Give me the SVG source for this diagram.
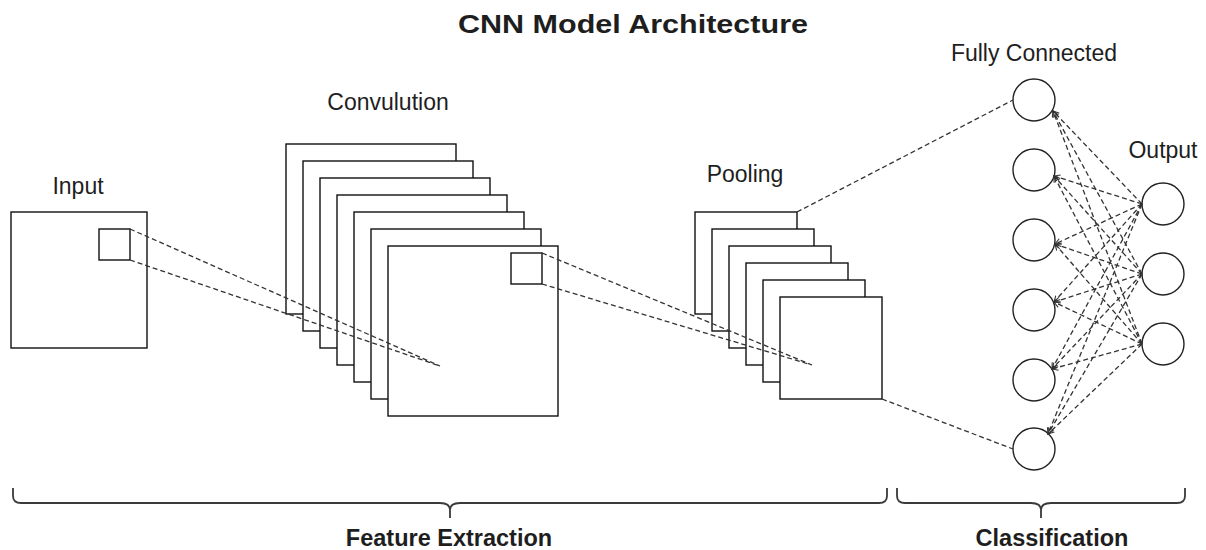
<svg xmlns="http://www.w3.org/2000/svg" width="1206" height="550" viewBox="0 0 1206 550">
  <style>
    .lbl { font-family: "Liberation Sans", Arial, sans-serif; font-size: 23px; fill: #1e1e1e; text-anchor: middle; }
    .bold { font-weight: bold; font-size: 23.5px; }
    .title { font-size: 26px; }
    .box { fill: #ffffff; stroke: #111111; stroke-width: 1.4; }
    .unit { fill: #ffffff; stroke: #222222; stroke-width: 1.4; }
    .dash { fill: none; stroke: #333333; stroke-width: 1.3; stroke-dasharray: 5 3; }
    .brace { fill: none; stroke: #3a3a3a; stroke-width: 1.8; }
  </style>
  <defs>
    <marker id="open-arrow" markerWidth="8" markerHeight="8" refX="6.5" refY="3.5" orient="auto" markerUnits="userSpaceOnUse">
      <path d="M0.5,0.5 L6.5,3.5 L0.5,6.5" fill="none" stroke="#333333" stroke-width="1.1"/>
    </marker>
  </defs>

  <rect width="1206" height="550" fill="#ffffff"/>

  <!-- title -->
  <text class="lbl bold title" x="633" y="33" textLength="350" lengthAdjust="spacingAndGlyphs">CNN Model Architecture</text>

  <!-- input image with receptive field -->
  <g id="input">
    <text class="lbl" x="78" y="194">Input</text>
    <rect class="box" x="11" y="212" width="136" height="136"/>
    <rect class="box" x="99" y="229" width="31" height="31"/>
  </g>

  <!-- convolution feature maps, back to front -->
  <g id="convolution">
    <text class="lbl" x="388" y="110">Convulution</text>
    <rect class="box" x="286" y="144" width="170" height="170"/>
    <rect class="box" x="303" y="161" width="170" height="170"/>
    <rect class="box" x="320" y="178" width="170" height="170"/>
    <rect class="box" x="337" y="195" width="170" height="170"/>
    <rect class="box" x="354" y="212" width="170" height="170"/>
    <rect class="box" x="371" y="229" width="170" height="170"/>
    <rect class="box" x="388" y="246" width="170" height="170"/>
    <rect class="box" x="511" y="253" width="31" height="31"/>
  </g>

  <!-- pooled maps, back to front -->
  <g id="pooling">
    <text class="lbl" x="745" y="182">Pooling</text>
    <rect class="box" x="695" y="212" width="102" height="102"/>
    <rect class="box" x="712" y="229" width="102" height="102"/>
    <rect class="box" x="729" y="246" width="102" height="102"/>
    <rect class="box" x="746" y="263" width="102" height="102"/>
    <rect class="box" x="763" y="280" width="102" height="102"/>
    <rect class="box" x="780" y="297" width="102" height="102"/>
  </g>

  <!-- fully connected layer -->
  <g id="fully-connected">
    <text class="lbl" x="1034" y="61">Fully Connected</text>
    <circle class="unit" cx="1034" cy="100" r="21"/>
    <circle class="unit" cx="1034" cy="170" r="21"/>
    <circle class="unit" cx="1034" cy="240" r="21"/>
    <circle class="unit" cx="1034" cy="310" r="21"/>
    <circle class="unit" cx="1034" cy="380" r="21"/>
    <circle class="unit" cx="1034" cy="449" r="21"/>
  </g>

  <!-- output layer -->
  <g id="output">
    <text class="lbl" x="1163" y="158">Output</text>
    <circle class="unit" cx="1163" cy="204" r="21"/>
    <circle class="unit" cx="1163" cy="274" r="21"/>
    <circle class="unit" cx="1163" cy="344" r="21"/>
  </g>

  <!-- connectors -->
  <g id="connectors">
    <path class="dash" d="M130,229 L440,366 M130,260 L440,366"/>
    <path class="dash" d="M542,253 L812,365 M542,284 L812,365"/>
    <path class="dash" d="M797,212 L1013,100 M882,399 L1013,449"/>
    <g marker-end="url(#open-arrow)">
      <path class="dash" d="M1142,204 L1053,111"/>
      <path class="dash" d="M1142,204 L1054,176"/>
      <path class="dash" d="M1142,204 L1055,244"/>
      <path class="dash" d="M1142,204 L1054,302"/>
      <path class="dash" d="M1142,204 L1052,369"/>
      <path class="dash" d="M1142,204 L1048,434"/>
      <path class="dash" d="M1142,274 L1053,111"/>
      <path class="dash" d="M1142,274 L1054,176"/>
      <path class="dash" d="M1142,274 L1055,244"/>
      <path class="dash" d="M1142,274 L1054,302"/>
      <path class="dash" d="M1142,274 L1052,369"/>
      <path class="dash" d="M1142,274 L1048,434"/>
      <path class="dash" d="M1142,344 L1053,111"/>
      <path class="dash" d="M1142,344 L1054,176"/>
      <path class="dash" d="M1142,344 L1055,244"/>
      <path class="dash" d="M1142,344 L1054,302"/>
      <path class="dash" d="M1142,344 L1052,369"/>
      <path class="dash" d="M1142,344 L1048,434"/>
    </g>
  </g>

  <!-- stage braces -->
  <g id="feature-extraction">
    <path class="brace" d="M13,488 V496 Q13,503 21,503 H440 Q450,503 450,510 Q450,503 460,503 H879 Q887,503 887,496 V488 M450,510 V518"/>
    <text class="lbl bold" x="449" y="546">Feature Extraction</text>
  </g>
  <g id="classification">
    <path class="brace" d="M897,488 V496 Q897,503 905,503 H1031 Q1041,503 1041,510 Q1041,503 1051,503 H1177 Q1185,503 1185,496 V488 M1041,510 V518"/>
    <text class="lbl bold" x="1052" y="546">Classification</text>
  </g>
</svg>
